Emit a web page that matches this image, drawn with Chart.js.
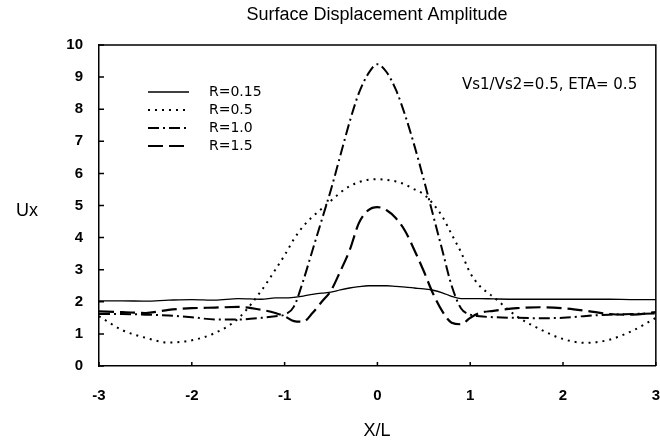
<!DOCTYPE html>
<html>
<head>
<meta charset="utf-8">
<script src="https://cdn.jsdelivr.net/npm/chart.js@4"></script>
<style>
  html, body { margin: 0; padding: 0; background: #fff; overflow: hidden; }
  #wrap { width: 660px; height: 442px; position: relative; }
  canvas { display: block; }
</style>
</head>
<body>
<div id="wrap"><canvas id="myChart"></canvas></div>
<script>
const xs = [-3, -2.75, -2.5, -2.25, -2, -1.75, -1.5, -1.25, -1.1, -1, -0.9, -0.8, -0.7, -0.6, -0.5,
  -0.4, -0.3, -0.2, -0.1, 0, 0.1, 0.2, 0.3, 0.4, 0.5, 0.6, 0.7, 0.8, 0.9, 1, 1.1, 1.25, 1.5,
  1.75, 2, 2.25, 2.5, 2.75, 3];

const r015 = [2.03, 2.03, 2.02, 2.05, 2.07, 2.05, 2.1, 2.08, 2.12, 2.12, 2.14, 2.18, 2.23, 2.27, 2.3,
  2.37, 2.43, 2.47, 2.5, 2.5, 2.5, 2.48, 2.46, 2.43, 2.4, 2.36, 2.28, 2.17, 2.1, 2.1, 2.1, 2.09, 2.08,
  2.08, 2.08, 2.08, 2.08, 2.07, 2.07];

const r05 = [1.55, 1.12, 0.88, 0.73, 0.8, 1.03, 1.48, 2.35, 3.0, 3.45, 3.95, 4.35, 4.65, 4.9, 5.15,
  5.4, 5.6, 5.73, 5.8, 5.82, 5.8, 5.75, 5.65, 5.5, 5.35, 5.05, 4.65, 4.1, 3.55, 2.9, 2.5, 2.15, 1.55,
  1.15, 0.84, 0.72, 0.82, 1.1, 1.5];

const r10 = [1.62, 1.62, 1.6, 1.57, 1.52, 1.45, 1.45, 1.5, 1.55, 1.6, 1.85, 2.65, 3.6, 4.55, 5.5,
  6.55, 7.6, 8.5, 9.1, 9.4, 9.15, 8.6, 7.8, 6.85, 5.8, 4.7, 3.6, 2.5, 1.8, 1.6, 1.55, 1.52, 1.5,
  1.49, 1.5, 1.56, 1.6, 1.62, 1.64];

const r15 = [1.7, 1.68, 1.65, 1.75, 1.8, 1.82, 1.84, 1.75, 1.65, 1.55, 1.4, 1.38, 1.65, 2.0, 2.35,
  2.95, 3.6, 4.45, 4.85, 4.95, 4.85, 4.6, 4.2, 3.6, 2.95, 2.25, 1.7, 1.35, 1.3, 1.5, 1.65, 1.72, 1.8,
  1.83, 1.8, 1.72, 1.62, 1.6, 1.68];

const yTicks = [0, 1, 2, 3, 4, 5, 6, 7, 8, 9, 10];
const xTicks = [-3, -2, -1, 0, 1, 2, 3];

const toPoints = (ys) => xs.map((x, i) => ({ x: x, y: ys[i] }));

const decorPlugin = {
  id: "decorPlugin",
  afterDraw(chart) {
    const { ctx, chartArea } = chart;
    const xScale = chart.scales.x;
    const yScale = chart.scales.y;
    ctx.save();
    ctx.strokeStyle = "#000";
    ctx.lineWidth = 1.5;
    ctx.setLineDash([]);
    // frame top and right
    ctx.beginPath();
    ctx.moveTo(chartArea.left, chartArea.top);
    ctx.lineTo(chartArea.right, chartArea.top);
    ctx.lineTo(chartArea.right, chartArea.bottom);
    ctx.stroke();
    // inward ticks
    ctx.beginPath();
    yTicks.forEach((v) => {
      const y = yScale.getPixelForValue(v);
      ctx.moveTo(chartArea.left, y);
      ctx.lineTo(chartArea.left + 5, y);
    });
    xTicks.forEach((v) => {
      const x = xScale.getPixelForValue(v);
      ctx.moveTo(x, chartArea.bottom);
      ctx.lineTo(x, chartArea.bottom - 4);
    });
    ctx.stroke();

    ctx.fillStyle = "#000";
    ctx.textBaseline = "middle";
    // title
    ctx.textAlign = "center";
    ctx.font = "18px 'Liberation Sans', Arial, sans-serif";
    ctx.fillText("Surface Displacement Amplitude", 377, 15);
    // axis titles
    ctx.font = "18px 'Liberation Sans', Arial, sans-serif";
    ctx.fillText("Ux", 27, 211);
    ctx.fillText("X/L", 377, 431);
    // note
    ctx.textAlign = "left";
    ctx.font = "15px 'DejaVu Sans', sans-serif";
    ctx.fillText("Vs1/Vs2=0.5, ETA= 0.5", 462, 85);

    // legend
    ctx.font = "14px 'DejaVu Sans', sans-serif";
    chart.data.datasets.forEach((ds, i) => {
      const y = 92 + i * 18;
      ctx.beginPath();
      ctx.lineWidth = ds.borderWidth;
      ctx.setLineDash(ds.borderDash || []);
      ctx.moveTo(148, y);
      ctx.lineTo(189, y);
      ctx.stroke();
      ctx.setLineDash([]);
      ctx.fillText(ds.label, 209, y);
    });
    ctx.restore();
  },
};

new Chart(document.getElementById("myChart"), {
  type: "line",
  data: {
    datasets: [
      {
        label: "R=0.15",
        data: toPoints(r015),
        borderColor: "#000",
        borderWidth: 1.3,
        borderDash: [],
      },
      {
        label: "R=0.5",
        data: toPoints(r05),
        borderColor: "#000",
        borderWidth: 2,
        borderDash: [2, 5],
      },
      {
        label: "R=1.0",
        data: toPoints(r10),
        borderColor: "#000",
        borderWidth: 2,
        borderDash: [11, 4, 2, 4],
      },
      {
        label: "R=1.5",
        data: toPoints(r15),
        borderColor: "#000",
        borderWidth: 2.2,
        borderDash: [15, 6],
      },
    ],
  },
  options: {
    responsive: true,
    maintainAspectRatio: false,
    animation: false,
    layout: {
      padding: { top: 45, right: 0, left: 0, bottom: 0 },
    },
    elements: {
      point: { radius: 0 },
      line: { cubicInterpolationMode: "monotone", fill: false },
    },
    plugins: {
      legend: { display: false },
      title: { display: false },
      tooltip: { enabled: false },
    },
    scales: {
      x: {
        type: "linear",
        min: -3,
        max: 3,
        afterFit: (scale) => { scale.height = 76; },
        afterBuildTicks: (scale) => { scale.ticks = xTicks.map((v) => ({ value: v })); },
        grid: { display: false, drawTicks: true, tickLength: 21 },
        border: { display: true, color: "#000", width: 1.5 },
        ticks: {
          padding: 0,
          color: "#000",
          font: { family: "'Liberation Sans', Arial, sans-serif", size: 15, weight: "bold" },
        },
      },
      y: {
        min: 0,
        max: 10,
        afterFit: (scale) => { scale.width = 99; },
        afterBuildTicks: (scale) => { scale.ticks = yTicks.map((v) => ({ value: v })); },
        grid: { display: false, drawTicks: false },
        border: { display: true, color: "#000", width: 1.5 },
        ticks: {
          padding: 16,
          color: "#000",
          font: { family: "'Liberation Sans', Arial, sans-serif", size: 15, weight: "bold" },
        },
      },
    },
  },
  plugins: [decorPlugin],
});
</script>
</body>
</html>
